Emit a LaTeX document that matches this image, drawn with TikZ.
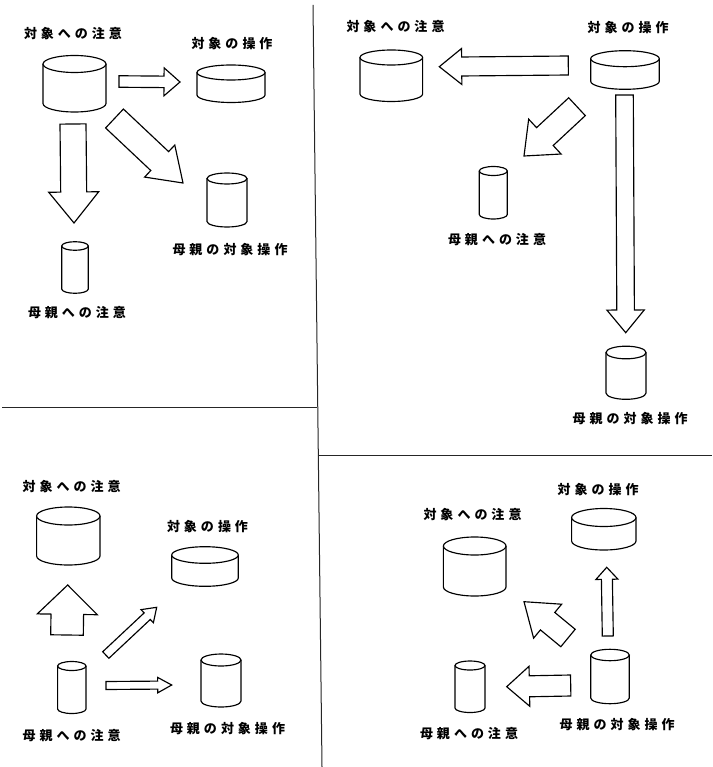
\documentclass[tikz,border=0pt]{standalone}
\usepackage{fontspec}
\newfontfamily\jp{Noto Sans CJK JP}
\usetikzlibrary{calc}
\newcommand\gp{\kern4pt}
\tikzset{
  cylline/.style={draw=black, line width=1.15pt, fill=white},
  cylbox/.style={inner sep=0pt, draw=none, rectangle},
  fatline/.style={draw=black, line width=1.15pt, fill=white, line join=miter},
  divline/.style={draw=black!85, line width=1pt},
  lbl/.style={inner sep=1pt, font={\fontsize{13}{14}\selectfont\jp\bfseries}}
}
% name, cx, ytop, ybot, rx, ry
\newcommand\cyl[6]{%
  \node[cylbox, minimum width={2*#5}, minimum height={#4-#3+2*#6}] (#1) at (#2,{(#3+#4)/2}) {};
  \draw[cylline] ({#2-#5},#3) -- ({#2-#5},#4) arc[start angle=180, end angle=0, x radius=#5, y radius=#6] -- ({#2+#5},#3);
  \draw[cylline] (#2,#3) ellipse [x radius=#5, y radius=#6];
}
% tail, tip, shaft half width, head half width, head length
\newcommand\fatarr[5]{%
  \coordinate (#1h) at ($(#2)!#5!(#1)$);
  \draw[fatline] ($(#1)!#3!90:(#2)$) -- ($(#1h)!#3!90:(#2)$) -- ($(#1h)!#4!90:(#2)$) -- (#2)
     -- ($(#1h)!#4!-90:(#2)$) -- ($(#1h)!#3!-90:(#2)$) -- ($(#1)!#3!-90:(#2)$) -- cycle;
}
\begin{document}
\begin{tikzpicture}[x=1pt, y=-1pt]
\fill[white] (0,0) rectangle (712,767);
\useasboundingbox (0,0) rectangle (712,767);

% dividers
\draw[divline] (313,5) -- (322,767);
\draw[divline] (2,407) -- (317,407);
\draw[divline] (319,455) -- (712,455);

% ---------- panel 1 (top left)
\cyl{pa1}{74.5}{64}{103.5}{31.5}{8.5}
\cyl{pb1}{231}{72.5}{95}{34}{7.5}
\cyl{pc1}{227}{178.5}{221.5}{20}{5.5}
\cyl{pd1}{75}{246}{289}{13.3}{4.3}
\node[lbl] (la1) at (73,34) {対\gp 象\gp へ\gp の\gp 注\gp 意};
\node[lbl] (lb1) at (232,44) {対\gp 象\gp の\gp 操\gp 作};
\node[lbl] (lc1) at (230,250) {母\gp 親\gp の\gp 対\gp 象\gp 操\gp 作};
\node[lbl] (ld1) at (77,313) {母\gp 親\gp へ\gp の\gp 注\gp 意};
\coordinate (a1s) at (119,81.5);  \coordinate (a1e) at (180,82);
\coordinate (a2s) at (73,124);    \coordinate (a2e) at (74,223);
\coordinate (a3s) at (114.5,118.5); \coordinate (a3e) at (183,183);
\fatarr{a1s}{a1e}{5.75pt}{14pt}{16pt}
\fatarr{a2s}{a2e}{13pt}{25pt}{31pt}
\fatarr{a3s}{a3e}{13pt}{22pt}{32pt}

% ---------- panel 2 (top right)
\cyl{pa2}{391.3}{57.5}{94}{31.3}{7.5}
\cyl{pb2}{625}{58.7}{81.3}{34.3}{8}
\cyl{pd2}{493.3}{171}{214.5}{14}{4.5}
\cyl{pc2}{626}{352.5}{393}{20}{6.3}
\node[lbl] (la2) at (395.5,27) {対\gp 象\gp へ\gp の\gp 注\gp 意};
\node[lbl] (lb2) at (628,28) {対\gp 象\gp の\gp 操\gp 作};
\node[lbl] (ld2) at (497,240) {母\gp 親\gp へ\gp の\gp 注\gp 意};
\node[lbl] (lc2) at (630,419) {母\gp 親\gp の\gp 対\gp 象\gp 操\gp 作};
\coordinate (b1s) at (568.3,65.5); \coordinate (b1e) at (439.3,66.7);
\coordinate (b2s) at (577,106.7);  \coordinate (b2e) at (524,156);
\coordinate (b3s) at (624.5,95);   \coordinate (b3e) at (625.7,332.7);
\fatarr{b1s}{b1e}{9.5pt}{18pt}{22.4pt}
\fatarr{b2s}{b2e}{12.2pt}{23.8pt}{28.5pt}
\fatarr{b3s}{b3e}{8.8pt}{18.7pt}{22.7pt}

% ---------- panel 3 (bottom left)
\cyl{pa3}{68.3}{516}{556}{31.7}{9}
\cyl{pb3}{205}{555}{578}{33.3}{8.3}
\cyl{pd3}{71.8}{666}{709}{14.2}{4.5}
\cyl{pc3}{221}{660}{701}{20}{6}
\node[lbl] (la3) at (71.7,486.7) {対\gp 象\gp へ\gp の\gp 注\gp 意};
\node[lbl] (lb3) at (207.5,526.7) {対\gp 象\gp の\gp 操\gp 作};
\node[lbl] (ld3) at (71.7,736) {母\gp 親\gp へ\gp の\gp 注\gp 意};
\node[lbl] (lc3) at (227.5,728.3) {母\gp 親\gp の\gp 対\gp 象\gp 操\gp 作};
\coordinate (c1s) at (67,635);      \coordinate (c1e) at (67.7,585);
\coordinate (c2s) at (105.8,655);   \coordinate (c2e) at (156.7,607.3);
\coordinate (c3s) at (106,685.5);   \coordinate (c3e) at (171.7,685);
\fatarr{c1s}{c1e}{16.3pt}{30pt}{29.3pt}
\fatarr{c2s}{c2e}{4.5pt}{9pt}{13pt}
\fatarr{c3s}{c3e}{4pt}{7.7pt}{14pt}

% ---------- panel 4 (bottom right)
\cyl{pb4}{603.8}{517.5}{541}{32.2}{9}
\cyl{pa4}{474.7}{546}{587}{31.3}{9}
\cyl{pd4}{470}{665.5}{708}{15}{4.5}
\cyl{pc4}{610}{655}{698}{19.3}{5.7}
\node[lbl] (lb4) at (598,490) {対\gp 象\gp の\gp 操\gp 作};
\node[lbl] (la4) at (472.5,515) {対\gp 象\gp へ\gp の\gp 注\gp 意};
\node[lbl] (ld4) at (469,733.3) {母\gp 親\gp へ\gp の\gp 注\gp 意};
\node[lbl] (lc4) at (617,725) {母\gp 親\gp の\gp 対\gp 象\gp 操\gp 作};
\coordinate (d1s) at (607.8,636);   \coordinate (d1e) at (606.7,567.3);
\coordinate (d2s) at (568,638);     \coordinate (d2e) at (524,601.7);
\coordinate (d3s) at (570.7,685.5); \coordinate (d3e) at (506.7,686.7);
\fatarr{d1s}{d1e}{5.5pt}{11pt}{12pt}
\fatarr{d2s}{d2e}{11.3pt}{22pt}{30.6pt}
\fatarr{d3s}{d3e}{10.5pt}{20pt}{22.7pt}
\end{tikzpicture}
\end{document}
